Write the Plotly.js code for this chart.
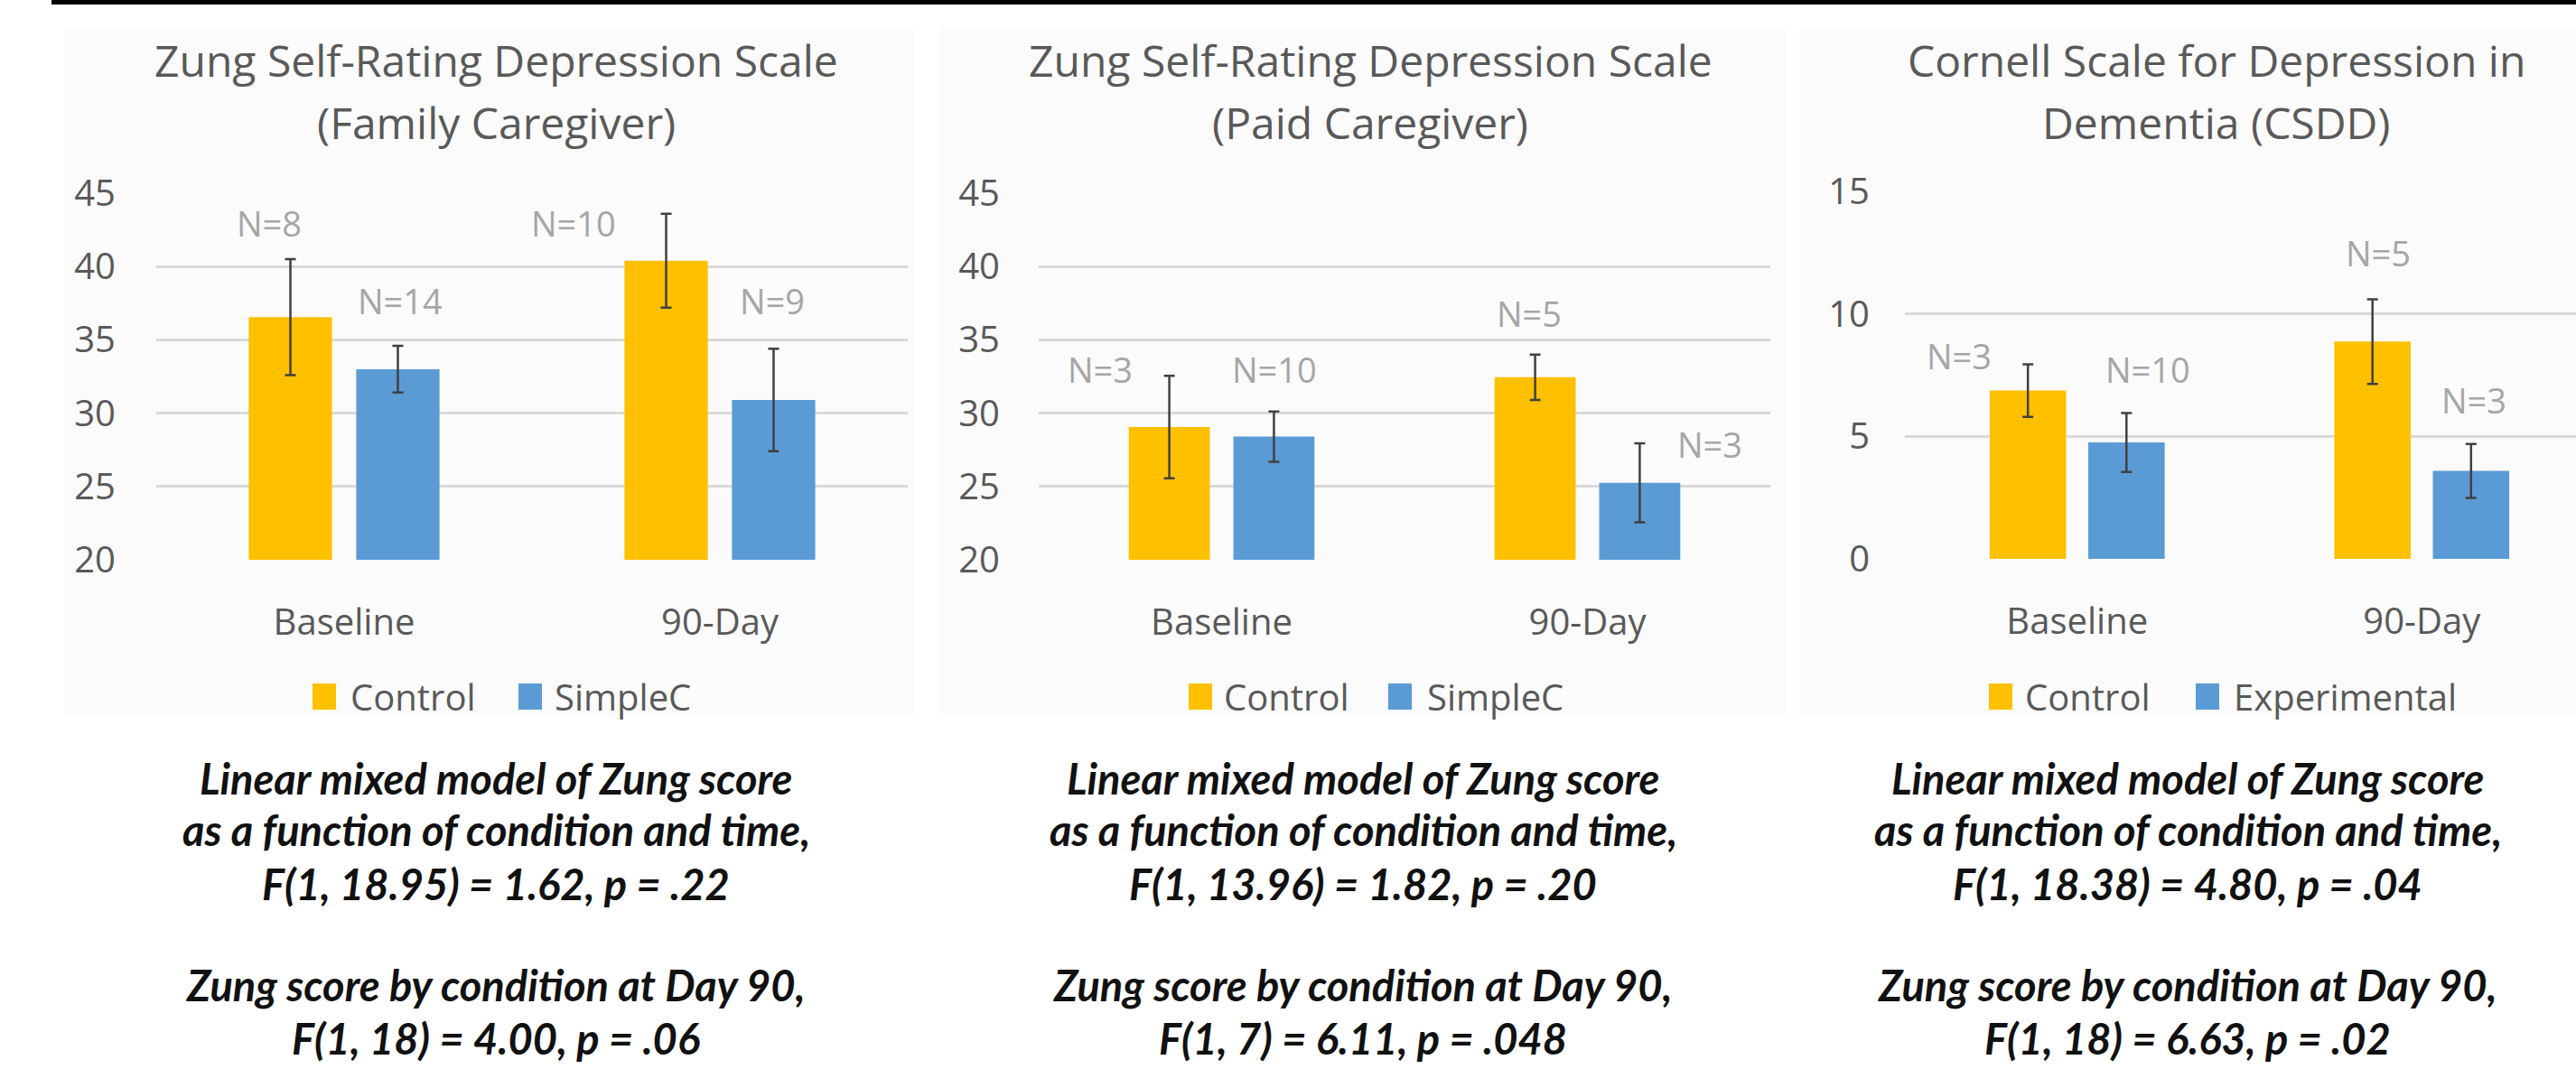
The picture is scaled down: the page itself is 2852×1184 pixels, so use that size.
<!DOCTYPE html>
<html>
<head>
<meta charset="utf-8">
<script src="https://cdn.plot.ly/plotly-3.0.1.min.js"></script>
<style>html,body{margin:0;padding:0;background:#fff;}#chart{width:2852px;height:1184px;}</style>
</head>
<body>
<div id="chart"></div>
<script>
// ---------------- DATA ----------------
const categories = ['Baseline', '90-Day'];

// Panel 1: Zung (Family Caregiver)
const famTitle = ['Zung Self-Rating Depression Scale', '(Family Caregiver)'];
const famSeries = ['Control', 'SimpleC'];
const famControl = [36.55, 40.4];
const famControlErr = [3.95, 3.2];
const famControlN = [8, 10];
const famSimpleC = [33.0, 30.9];
const famSimpleCErr = [1.6, 3.5];
const famSimpleCN = [14, 9];

// Panel 2: Zung (Paid Caregiver)
const paidTitle = ['Zung Self-Rating Depression Scale', '(Paid Caregiver)'];
const paidSeries = ['Control', 'SimpleC'];
const paidControl = [29.05, 32.45];
const paidControlErr = [3.5, 1.55];
const paidControlN = [3, 5];
const paidSimpleC = [28.4, 25.25];
const paidSimpleCErr = [1.72, 2.7];
const paidSimpleCN = [10, 3];

// Panel 3: CSDD
const csddTitle = ['Cornell Scale for Depression in', 'Dementia (CSDD)'];
const csddSeries = ['Control', 'Experimental'];
const csddControl = [6.87, 8.87];
const csddControlErr = [1.07, 1.73];
const csddControlN = [3, 5];
const csddExperimental = [4.75, 3.59];
const csddExperimentalErr = [1.2, 1.1];
const csddExperimentalN = [10, 3];

// Tick values
const zungTicks = [20, 25, 30, 35, 40, 45];
const csddTicks = [0, 5, 10, 15];

// Statistics text below each chart
const famStats = ['Linear mixed model of Zung score', 'as a function of condition and time,', 'F(1, 18.95) = 1.62, p = .22', 'Zung score by condition at Day 90,', 'F(1, 18) = 4.00, p = .06'];
const paidStats = ['Linear mixed model of Zung score', 'as a function of condition and time,', 'F(1, 13.96) = 1.82, p = .20', 'Zung score by condition at Day 90,', 'F(1, 7) = 6.11, p = .048'];
const csddStats = ['Linear mixed model of Zung score', 'as a function of condition and time,', 'F(1, 18.38) = 4.80, p = .04', 'Zung score by condition at Day 90,', 'F(1, 18) = 6.63, p = .02'];

// ---------------- LAYOUT CONFIG ----------------
const W = 2852, H = 1184;
const px = v => v / W;
const py = v => 1 - v / H;
const COL_CTRL = '#FFC000';
const COL_EXP = '#5B9BD5';
const TXT = '#595959';
const FONT = 'Open Sans, Noto Sans, sans-serif';

const panels = [
  { title: famTitle, series: famSeries, a: famControl, aErr: famControlErr, aN: famControlN,
    b: famSimpleC, bErr: famSimpleCErr, bN: famSimpleCN, ticks: zungTicks, yr: [20, 45], xr: [-0.5, 1.5],
    xd: [173, 1005], yd: [214, 620], titleX: 549, statsX: 549, yStand: 44,
    bg: [73, 1012], nPos: [[-0.2, 42.95], [0.611, 42.95], [0.149, 37.66], [1.139, 37.66]],
    leg: [[346, 386], [574, 612]] },
  { title: paidTitle, series: paidSeries, a: paidControl, aErr: paidControlErr, aN: paidControlN,
    b: paidSimpleC, bErr: paidSimpleCErr, bN: paidSimpleCN, ticks: zungTicks, yr: [20, 45], xr: [-0.5, 1.5],
    xd: [1150, 1960], yd: [214, 620], titleX: 1517, statsX: 1509, yStand: 42,
    bg: [1040, 1978], nPos: [[-0.332, 32.98], [0.840, 36.8], [0.144, 32.98], [1.334, 27.88]],
    leg: [[1316, 1353], [1537, 1578]] },
  { title: csddTitle, series: csddSeries, a: csddControl, aErr: csddControlErr, aN: csddControlN,
    b: csddExperimental, bErr: csddExperimentalErr, bN: csddExperimentalN, ticks: csddTicks, yr: [0, 15], xr: [-0.5, 1.4476],
    xd: [2109, 2852], yd: [212, 619], titleX: 2454, statsX: 2422, yStand: 38,
    bg: [1992, 2852], nPos: [[-0.343, 8.29], [0.873, 12.49], [0.204, 7.74], [1.151, 6.48]],
    leg: [[2202, 2240], [2431, 2471]] }
];
const statsY = [862, 919, 979, 1091, 1150];

const traces = [];
const layout = {
  width: W, height: H,
  margin: { l: 0, r: 0, t: 0, b: 0, pad: 0 },
  paper_bgcolor: '#ffffff',
  plot_bgcolor: 'rgba(0,0,0,0)',
  showlegend: false,
  barmode: 'group',
  bargap: 0.428,
  bargroupgap: 0.225,
  font: { family: FONT, color: TXT },
  annotations: [],
  shapes: [
    { type: 'rect', xref: 'paper', yref: 'paper', x0: px(57), x1: 1, y0: py(5), y1: 1,
      fillcolor: '#000000', line: { width: 0 }, layer: 'above' }
  ]
};

panels.forEach((p, i) => {
  const n = i === 0 ? '' : String(i + 1);
  const xa = 'x' + n, ya = 'y' + n;
  const errStyle = { type: 'data', symmetric: true, color: '#404040', thickness: 2.5, width: 6 };
  traces.push({ type: 'bar', name: p.series[0], x: categories, y: p.a, xaxis: xa, yaxis: ya,
    marker: { color: COL_CTRL }, error_y: Object.assign({ array: p.aErr }, errStyle), hoverinfo: 'none' });
  traces.push({ type: 'bar', name: p.series[1], x: categories, y: p.b, xaxis: xa, yaxis: ya,
    marker: { color: COL_EXP }, error_y: Object.assign({ array: p.bErr }, errStyle), hoverinfo: 'none' });

  layout['xaxis' + n] = {
    domain: [px(p.xd[0]), px(p.xd[1])], anchor: ya, type: 'category', range: p.xr,
    showgrid: false, zeroline: false, showline: false, ticks: '',
    tickfont: { family: FONT, size: 40, color: TXT }, ticklabelstandoff: 42, fixedrange: true
  };
  layout['yaxis' + n] = {
    domain: [py(p.yd[1]), py(p.yd[0])], anchor: xa, range: p.yr,
    tickmode: 'array', tickvals: p.ticks, showgrid: true, gridcolor: '#d9d9d9', gridwidth: 3,
    zeroline: false, showline: false, ticks: '', ticklabelstandoff: p.yStand,
    tickfont: { family: FONT, size: 40, color: TXT }, fixedrange: true
  };

  // panel background
  layout.shapes.push({ type: 'rect', xref: 'paper', yref: 'paper', x0: px(p.bg[0]), x1: px(p.bg[1]),
    y0: py(793), y1: py(33), fillcolor: '#fbfbfb', line: { width: 0 }, layer: 'below' });

  // titles
  [67, 135].forEach((yc, k) => {
    layout.annotations.push({ xref: 'paper', yref: 'paper', x: px(p.titleX), y: py(yc),
      xanchor: 'center', yanchor: 'middle', showarrow: false, text: p.title[k],
      font: { family: FONT, size: 48, color: TXT } });
  });

  // N labels (control base, control 90, exp base, exp 90)
  const nTexts = ['N=' + p.aN[0], 'N=' + p.aN[1], 'N=' + p.bN[0], 'N=' + p.bN[1]];
  nTexts.forEach((t, k) => {
    layout.annotations.push({ xref: xa, yref: ya, x: p.nPos[k][0], y: p.nPos[k][1],
      xanchor: 'center', yanchor: 'middle', showarrow: false, text: t,
      font: { family: FONT, size: 38, color: '#a6a6a6' } });
  });

  // legend
  [COL_CTRL, COL_EXP].forEach((c, k) => {
    layout.shapes.push({ type: 'rect', xref: 'paper', yref: 'paper',
      x0: px(p.leg[k][0]), x1: px(p.leg[k][0] + 26), y0: py(786), y1: py(757),
      fillcolor: c, line: { width: 0 } });
    layout.annotations.push({ xref: 'paper', yref: 'paper', x: px(p.leg[k][1]), y: py(771),
      xanchor: 'left', yanchor: 'middle', showarrow: false, text: p.series[k],
      font: { family: FONT, size: 40, color: TXT } });
  });

  // stats text
  const stats = [famStats, paidStats, csddStats][i];
  stats.forEach((t, k) => {
    layout.annotations.push({ xref: 'paper', yref: 'paper', x: px(p.statsX), y: py(statsY[k]),
      xanchor: 'center', yanchor: 'middle', showarrow: false, text: t,
      font: { family: 'Lato, sans-serif', size: 47, color: '#111111', weight: 700, style: 'italic' } });
  });
});

Plotly.newPlot('chart', traces, layout, { staticPlot: true, displayModeBar: false });
</script>
</body>
</html>
